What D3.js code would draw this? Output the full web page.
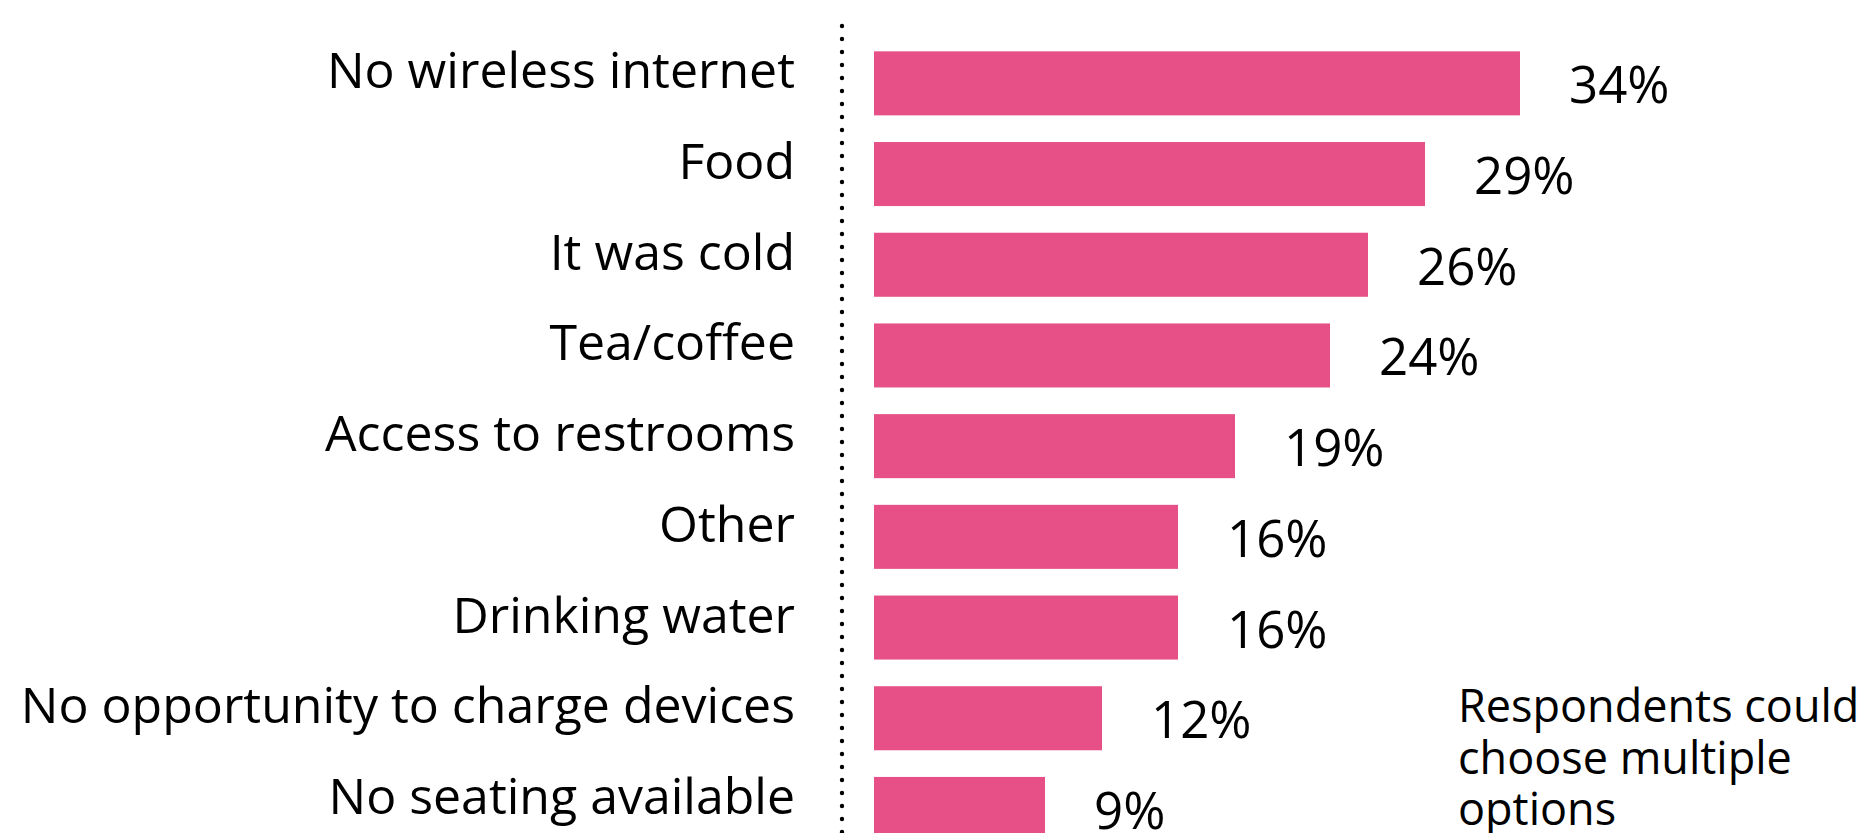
<!DOCTYPE html>
<html>
<head>
<meta charset="utf-8">
<script src="https://cdn.jsdelivr.net/npm/d3@7"></script>
<style>
  html, body { margin: 0; padding: 0; background: #ffffff; overflow: hidden; }
  svg { display: block; }
  text { font-family: "Open Sans", "Noto Sans", sans-serif; fill: #000000; }
</style>
</head>
<body>
<svg id="chart" width="1865" height="833"></svg>
<script>
// What respondents said was missing
const categories = [
  "No wireless internet",
  "Food",
  "It was cold",
  "Tea/coffee",
  "Access to restrooms",
  "Other",
  "Drinking water",
  "No opportunity to charge devices",
  "No seating available"
];
const percents = [34, 29, 26, 24, 19, 16, 16, 12, 9];
const noteLines = ["Respondents could", "choose multiple", "options"];

const width = 1865, height = 833;
const barColor = "#e75086";

const svg = d3.select("#chart");

const x = d3.scaleLinear().domain([0, 35]).range([874, 1539]);
const y = d3.scaleBand()
  .domain(categories)
  .range([38, 854.3])
  .paddingInner(0.294)
  .paddingOuter(0.147);

const rows = categories.map((c, i) => ({ category: c, value: percents[i] }));

// dotted baseline to the left of the bars
svg.append("line")
  .attr("x1", 842).attr("x2", 842)
  .attr("y1", 26).attr("y2", height + 10)
  .attr("stroke", "#000")
  .attr("stroke-width", 4.4)
  .attr("stroke-linecap", "round")
  .attr("stroke-dasharray", "0 13");

// bars
svg.append("g").selectAll("rect")
  .data(rows)
  .join("rect")
  .attr("x", x(0))
  .attr("y", d => y(d.category))
  .attr("width", d => x(d.value) - x(0))
  .attr("height", y.bandwidth())
  .attr("fill", barColor);

// category labels
svg.append("g").selectAll("text")
  .data(rows)
  .join("text")
  .attr("x", 795)
  .attr("y", d => y(d.category) + y.bandwidth() / 2 + 5)
  .attr("text-anchor", "end")
  .attr("font-size", 50)
  .text(d => d.category);

// value labels
svg.append("g").selectAll("text")
  .data(rows)
  .join("text")
  .attr("x", d => x(d.value) + 49)
  .attr("y", d => y(d.category) + y.bandwidth() / 2 + 20)
  .attr("font-size", 51)
  .text(d => d3.format(".0%")(d.value / 100));

// note
svg.append("g").selectAll("text")
  .data(noteLines)
  .join("text")
  .attr("x", 1458)
  .attr("y", (d, i) => 722 + i * 51.5)
  .attr("font-size", 45)
  .text(d => d);
</script>
</body>
</html>
